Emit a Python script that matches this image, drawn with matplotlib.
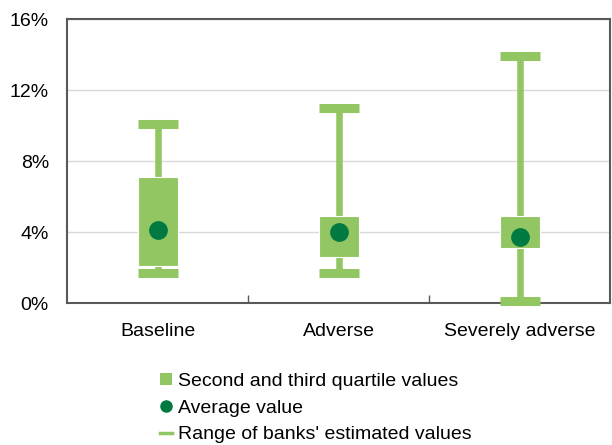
import numpy as np
import matplotlib
matplotlib.use("Agg")
import matplotlib.pyplot as plt
from matplotlib.lines import Line2D
from matplotlib.patches import Patch

plt.rcParams['font.family'] = ['Liberation Sans', 'DejaVu Sans']

# values in %
scenarios = ['Baseline', 'Adverse', 'Severely adverse']
range_min = [1.7, 1.7, 0.1]
range_max = [10.1, 11.0, 13.9]
q_low = [2.1, 2.6, 3.1]
q_high = [7.1, 4.9, 4.9]
avg = [4.1, 4.0, 3.7]
yticks = [0, 4, 8, 12, 16]

light = '#92C662'
dark = '#007A41'
spine_col = '#595959'

fig = plt.figure(figsize=(6.12, 4.45), dpi=100)
ax = fig.add_axes([0.1095, 0.319, 0.888, 0.638])

x = np.arange(len(scenarios))
w = 0.22

# whiskers
ax.vlines(x, q_high, range_max, color=light, lw=4.7, zorder=2)
ax.vlines(x, range_min, q_low, color=light, lw=4.7, zorder=2)
# caps
ax.hlines(range_max, x - w / 2, x + w / 2, color=light, lw=6.5,
          capstyle='butt', zorder=3, clip_on=False)
ax.hlines(range_min, x - w / 2, x + w / 2, color=light, lw=6.5,
          capstyle='butt', zorder=3, clip_on=False)
# boxes
ax.bar(x, np.array(q_high) - np.array(q_low), bottom=q_low, width=w,
       color=light, edgecolor='white', linewidth=0.8, zorder=3)
# averages
ax.plot(x, avg, 'o', color=dark, ms=13.5, zorder=4, markeredgewidth=0)

ax.set_xlim(-0.5, 2.5)
ax.set_ylim(0, 16)
ax.set_yticks(yticks)
ax.set_yticklabels([f'{v}%' for v in yticks])
ax.set_xticks(x)
ax.set_xticklabels(scenarios)
ax.set_xticks([0.5, 1.5], minor=True)
ax.tick_params(axis='x', which='major', length=0, pad=14.5, labelsize=14)
ax.tick_params(axis='x', which='minor', length=6, direction='in',
               color=spine_col, width=1)
ax.tick_params(axis='y', length=0, pad=13, labelsize=14)
ax.yaxis.grid(True, color='#D9D9D9', lw=1)
ax.set_axisbelow(True)
for s in ax.spines.values():
    s.set_color(spine_col)
    s.set_linewidth(1.5)

handles = [
    Patch(facecolor=light, edgecolor='none'),
    Line2D([], [], marker='o', color=dark, ls='none', ms=8),
    Line2D([], [], color=light, lw=2.5),
]
labels = ['Second and third quartile values', 'Average value',
          "Range of banks' estimated values"]
fig.legend(handles, labels, loc='upper left', bbox_to_anchor=(0.262, 0.162),
           frameon=False, fontsize=14, handlelength=0.6, handleheight=0.6,
           handletextpad=0.3, labelspacing=0.5, borderpad=0, borderaxespad=0)

fig.savefig('out.png', dpi=100)
